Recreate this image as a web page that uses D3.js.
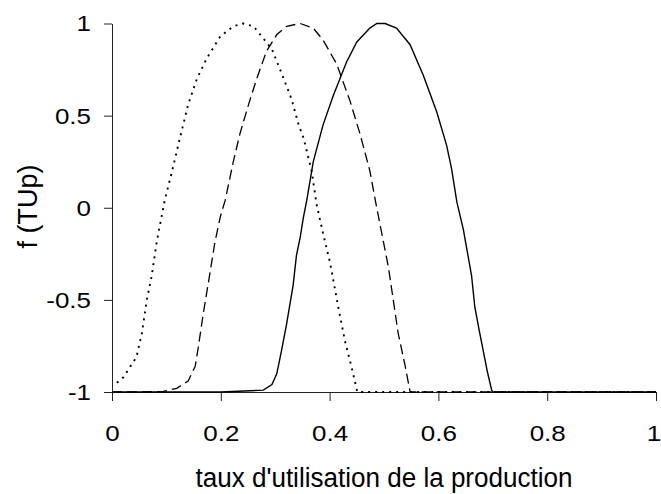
<!DOCTYPE html>
<html>
<head>
<meta charset="utf-8">
<script src="https://cdn.jsdelivr.net/npm/d3@7"></script>
<style>
  html, body { margin: 0; padding: 0; background: #fff; }
  svg { display: block; font-family: "Liberation Sans", Arial, sans-serif; }
</style>
</head>
<body>
<svg id="chart" width="661" height="494"></svg>
<script>
// ---- data ----
const xTicks = [0, 0.2, 0.4, 0.6, 0.8, 1];
const xTickLabels = ["0", "0.2", "0.4", "0.6", "0.8", "1"];
const yTicks = [-1, -0.5, 0, 0.5, 1];
const yTickLabels = ["-1", "-0.5", "0", "0.5", "1"];
const xTitle = "taux d'utilisation de la production";
const yTitle = "f (TUp)";

// dotted series
const dottedX = [0.009, 0.021, 0.045, 0.055, 0.064, 0.073, 0.082, 0.091, 0.097, 0.113, 0.125, 0.140, 0.156, 0.174, 0.199, 0.223, 0.241, 0.260, 0.278, 0.294, 0.309, 0.330, 0.343, 0.352, 0.367, 0.376, 0.388, 0.401, 0.416, 0.428, 0.440, 0.451, 0.5, 0.6, 0.7, 0.8, 0.9, 1.0];
const dottedY = [-0.95, -0.92, -0.81, -0.68, -0.50, -0.37, -0.19, -0.05, 0.04, 0.23, 0.38, 0.56, 0.70, 0.81, 0.93, 0.985, 1.0, 0.985, 0.92, 0.86, 0.75, 0.59, 0.45, 0.38, 0.20, 0.02, -0.14, -0.30, -0.54, -0.72, -0.86, -1, -1, -1, -1, -1, -1, -1];

// dashed series
const dashedX = [0, 0.05, 0.094, 0.119, 0.140, 0.153, 0.159, 0.168, 0.177, 0.183, 0.189, 0.199, 0.208, 0.223, 0.235, 0.251, 0.266, 0.284, 0.303, 0.321, 0.346, 0.370, 0.388, 0.413, 0.4375, 0.456, 0.474, 0.485, 0.498, 0.508, 0.517, 0.526, 0.539, 0.548, 0.6, 0.7, 0.8, 0.9, 1.0];
const dashedY = [-1, -1, -0.997, -0.98, -0.94, -0.86, -0.75, -0.57, -0.41, -0.30, -0.19, -0.05, 0.04, 0.25, 0.40, 0.56, 0.70, 0.85, 0.94, 0.985, 1.0, 0.975, 0.91, 0.78, 0.58, 0.40, 0.20, 0.025, -0.17, -0.32, -0.50, -0.68, -0.86, -1, -1, -1, -1, -1, -1];

// solid series
const solidX = [0, 0.1, 0.2, 0.278, 0.294, 0.303, 0.312, 0.321, 0.333, 0.339, 0.346, 0.352, 0.358, 0.370, 0.388, 0.407, 0.431, 0.450, 0.474, 0.487, 0.502, 0.523, 0.548, 0.572, 0.597, 0.615, 0.624, 0.634, 0.646, 0.652, 0.661, 0.667, 0.676, 0.686, 0.690, 0.698, 0.700, 0.8, 0.9, 1.0];
const solidY = [-1, -1, -1, -0.99, -0.96, -0.90, -0.77, -0.63, -0.42, -0.26, -0.16, -0.05, 0.04, 0.25, 0.45, 0.61, 0.79, 0.90, 0.975, 1.0, 1.0, 0.975, 0.885, 0.72, 0.52, 0.34, 0.215, 0.03, -0.12, -0.22, -0.37, -0.54, -0.68, -0.83, -0.89, -0.99, -1, -1, -1, -1];

// ---- chart ----
const svg = d3.select("#chart");
const x = d3.scaleLinear().domain([0, 1]).range([112, 656]);
const y = d3.scaleLinear().domain([-1, 1]).range([392, 23.5]);

const xAxis = svg.append("g")
  .attr("transform", `translate(0,${y(-1)})`)
  .call(d3.axisBottom(x).tickValues(xTicks).tickFormat((d, i) => xTickLabels[i]).tickSize(9).tickSizeOuter(0));
xAxis.selectAll("text")
  .attr("y", 57.6).attr("dy", null)
  .attr("transform", "scale(1,0.85)")
  .attr("dx", (d, i) => i === xTicks.length - 1 ? -2.5 : 0)
  .style("font-size", "26px").style("font-family", "'Liberation Sans', Arial, sans-serif").attr("fill", "#000");

const yAxis = svg.append("g")
  .attr("transform", `translate(${x(0)},0)`)
  .call(d3.axisLeft(y).tickValues(yTicks).tickFormat((d, i) => yTickLabels[i]).tickSize(8).tickSizeOuter(0));
yAxis.selectAll("text")
  .attr("x", -21).attr("y", 8.8).attr("dy", null)
  .attr("transform", "scale(1,0.85)")
  .style("font-size", "26px").style("font-family", "'Liberation Sans', Arial, sans-serif").attr("fill", "#000");

svg.selectAll(".domain, .tick line").attr("stroke", "#222");

const line = d3.line().x(d => x(d[0])).y(d => y(d[1]));
const mk = (xs, ys) => xs.map((v, i) => [v, ys[i]]);

svg.append("path").datum(mk(dottedX, dottedY))
  .attr("d", line).attr("fill", "none").attr("stroke", "#000")
  .attr("stroke-width", 1.9).attr("stroke-dasharray", "2,5");
svg.append("path").datum(mk(dashedX, dashedY))
  .attr("d", line).attr("fill", "none").attr("stroke", "#000")
  .attr("stroke-width", 1.3).attr("stroke-dasharray", "10,5");
svg.append("path").datum(mk(solidX, solidY))
  .attr("d", line).attr("fill", "none").attr("stroke", "#000")
  .attr("stroke-width", 1.4);

svg.append("text")
  .attr("x", 384).attr("y", 487)
  .attr("text-anchor", "middle")
  .attr("textLength", 377).attr("lengthAdjust", "spacingAndGlyphs")
  .style("font-size", "27px").text(xTitle);

svg.append("text")
  .attr("transform", "translate(37,206.5) rotate(-90)")
  .attr("text-anchor", "middle")
  .style("font-size", "27px").text(yTitle);
</script>
</body>
</html>
